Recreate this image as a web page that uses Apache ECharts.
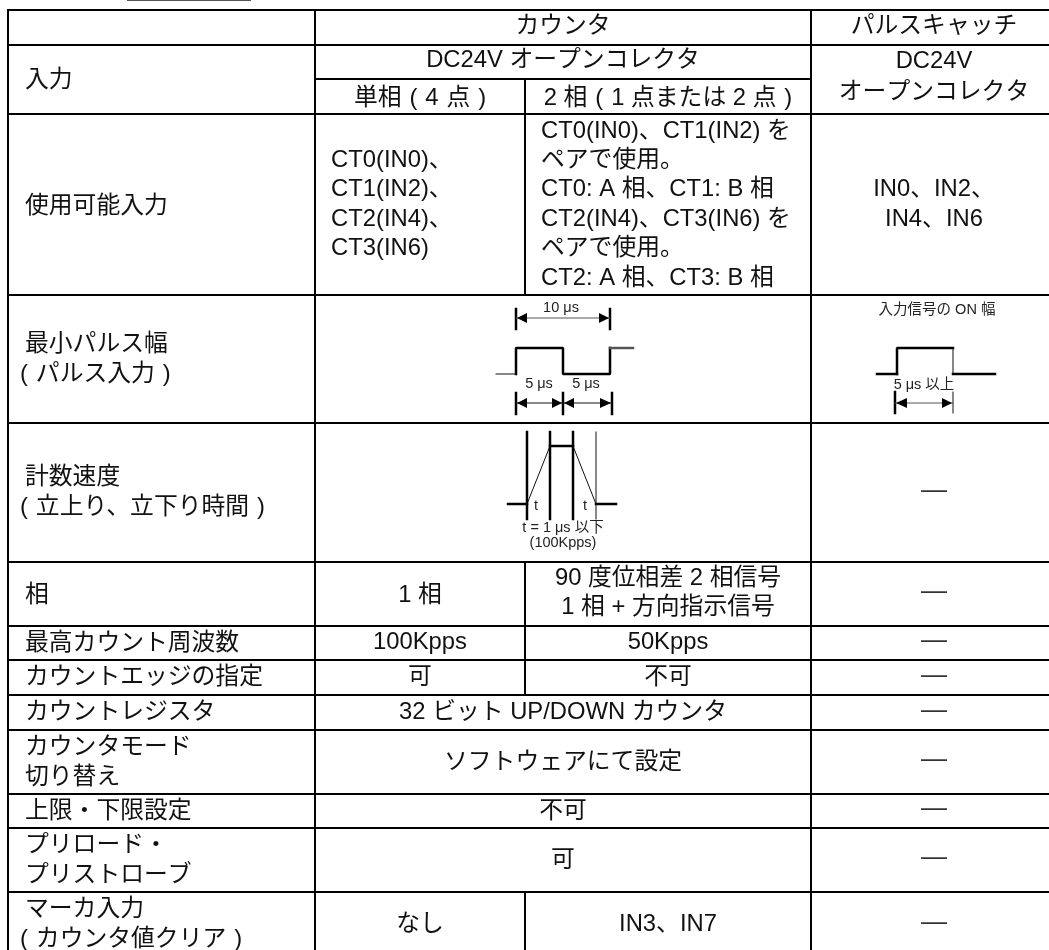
<!DOCTYPE html>
<html><head><meta charset="utf-8">
<style>html,body{margin:0;padding:0;background:#fff}#c{width:1049px;height:950px}</style>
<script src="https://cdn.jsdelivr.net/npm/echarts@6/dist/echarts.min.js"></script>
</head><body><div id="c"></div>
<script>
const columnEdges=[8,315,525,811,1057];
const rowEdges=[10,45,79,114,295,423,562,626,660,695,730,794,828,892,957];
const rowLabels=['入力','使用可能入力','最小パルス幅\n(\u2004パルス入力\u2004)','計数速度\n(\u2004立上り、立下り時間\u2004)','相','最高カウント周波数','カウントエッジの指定','カウントレジスタ','カウンタモード\n切り替え','上限・下限設定','プリロード・\nプリストローブ','マーカ入力\n(\u2004カウンタ値クリア\u2004)'];
const headerTexts=['カウンタ','パルスキャッチ','DC24V オープンコレクタ','単相\u2004(\u20044\u2004点\u2004)','2 相\u2004(\u20041 点または 2 点\u2004)','DC24V\nオープンコレクタ'];
const singlePhaseTexts=['CT0(IN0)、\nCT1(IN2)、\nCT2(IN4)、\nCT3(IN6)','1 相','100Kpps','可','なし'];
const twoPhaseTexts=['CT0(IN0)、CT1(IN2) を\nペアで使用。\nCT0: A 相、CT1: B 相\nCT2(IN4)、CT3(IN6) を\nペアで使用。\nCT2: A 相、CT3: B 相','90 度位相差 2 相信号\n1 相 + 方向指示信号','50Kpps','不可','IN3、IN7'];
const mergedTexts=['32 ビット UP/DOWN カウンタ','ソフトウェアにて設定','不可','可'];
const pulseCatchInput='IN0、IN2、\nIN4、IN6';
const dash='—';

// [col start, row start, col end, row end, text, align, vertical nudge]
const cells=[
 [0,0,1,1,'','c'],[0,1,1,3,rowLabels[0],'l',1],
 [1,0,3,1,headerTexts[0],'c',-1],[3,0,4,1,headerTexts[1],'c',-1],
 [1,1,3,2,headerTexts[2],'c',-1.5],[1,2,2,3,headerTexts[3],'c',2],[2,2,3,3,headerTexts[4],'c',2],[3,1,4,3,headerTexts[5],'c',-3],
 [0,3,1,4,rowLabels[1],'l',2],[1,3,2,4,singlePhaseTexts[0],'i'],[2,3,3,4,twoPhaseTexts[0],'i'],[3,3,4,4,pulseCatchInput,'c'],
 [0,4,1,5,rowLabels[2],'p'],[1,4,3,5,'','c'],[3,4,4,5,'','c'],
 [0,5,1,6,rowLabels[3],'p'],[1,5,3,6,'','c'],[3,5,4,6,dash,'c',-2],
 [0,6,1,7,rowLabels[4],'l',1],[1,6,2,7,singlePhaseTexts[1],'c',1],[2,6,3,7,twoPhaseTexts[1],'c',-1],[3,6,4,7,dash,'c',-2],
 [0,7,1,8,rowLabels[5],'l'],[1,7,2,8,singlePhaseTexts[2],'c',-1],[2,7,3,8,twoPhaseTexts[2],'c',-1],[3,7,4,8,dash,'c',-2],
 [0,8,1,9,rowLabels[6],'l'],[1,8,2,9,singlePhaseTexts[3],'c'],[2,8,3,9,twoPhaseTexts[3],'c'],[3,8,4,9,dash,'c',-2],
 [0,9,1,10,rowLabels[7],'l'],[1,9,3,10,mergedTexts[0],'c'],[3,9,4,10,dash,'c',-2],
 [0,10,1,11,rowLabels[8],'l'],[1,10,3,11,mergedTexts[1],'c'],[3,10,4,11,dash,'c',-2],
 [0,11,1,12,rowLabels[9],'l'],[1,11,3,12,mergedTexts[2],'c'],[3,11,4,12,dash,'c',-2],
 [0,12,1,13,rowLabels[10],'l'],[1,12,3,13,mergedTexts[3],'c'],[3,12,4,13,dash,'c',-2],
 [0,13,1,14,rowLabels[11],'p'],[1,13,2,14,singlePhaseTexts[4],'c'],[2,13,3,14,twoPhaseTexts[4],'c'],[3,13,4,14,dash,'c',-2]
];

// Diagram traces
const thickTraces=[
 [[516,374],[516,348],[563,348],[563,374],[610,374],[610,348]],
 [[516,309],[516,329]],[[610,309],[610,329]],
 [[516,393],[516,414]],[[563,393],[563,414]],[[612,393],[612,414]],
 [[897,374],[897,348],[953,348]],
 [[877,374],[897,374]],[[953,374],[995,374]],
 [[895,392],[895,413]],
 [[527,432],[527,519]],[[550,432],[550,519]],[[573,432],[573,519]],
 [[550,446],[573,446]],[[508,504],[527,504]],[[596,504],[616,504]]
];
const thinTraces=[
 [[496,374],[516,374]],[[527,504],[550,446]],[[573,446],[596,504]],
 [[596,432],[596,519]],[[953,374],[953,348]],[[953,392],[953,413]],
 [[516,403],[612,403]]
];
const greyTraces=[
 [[516,318],[610,318]],[[610,348],[633,348]],[[895,403],[953,403]]
];
// [tip x, tip y, base x]
const arrowHeads=[[517,318,527],[609,318,599],[517,403,527],[562,403,552],[564,403,574],[611,403,600],[896,403,907],[952,403,942]];
// [x, y, text, size]
const diagramTexts=[
 [561,308,'10 μs',14.5],[539,384,'5 μs',14.5],[586,384,'5 μs',14.5],
 [937,310,'入力信号の ON 幅',14.5],[924,385,'5 μs 以上',14.5],
 [536,506,'t',14.5],[585,506,'t',14.5],[563,528,'t = 1 μs 以下',14.5],[563,543,'(100Kpps)',14.5]
];
const topMarkX=[128,250], topMarkY=0;

const FONT='"Liberation Sans","Noto Sans CJK JP",sans-serif';
const chart=echarts.init(document.getElementById('c'),null,{renderer:'canvas'});
const lineSeries=(t,width,color)=>({type:'line',data:t,symbol:'none',silent:true,clip:false,z:4,lineStyle:{width,color,cap:'square'}});
chart.setOption({
 animation:false,backgroundColor:'#fff',
 grid:{left:0,right:0,top:0,bottom:0},
 xAxis:{type:'value',min:0,max:1049,show:false},
 yAxis:{type:'value',min:0,max:950,inverse:true,show:false},
 tooltip:{show:false},
 series:[
  {type:'custom',silent:true,z:2,clip:false,data:cells.map((_,i)=>[i]),
   renderItem(p,api){
    const [c0,r0,c1,r1,text,al,dy]=cells[api.value(0)];
    const a=api.coord([columnEdges[c0],rowEdges[r0]]),b=api.coord([columnEdges[c1],rowEdges[r1]]);
    const cy=(a[1]+b[1])/2+(dy||0);
    let x=(a[0]+b[0])/2,align='center';
    if(al==='l'||al==='p'){x=a[0]+17;align='left';}
    if(al==='i'){x=a[0]+16;align='left';}
    const isDash=text===dash;
    const twoLine=text.split('\n').length===2&&al!=='c';
    const lh=text===headerTexts[5]?31:twoLine?30:29.4;
    const font=(isDash?'26px ':'23.8px ')+FONT, fill=isDash?'#333':'#111';
    const children=[{type:'rect',shape:{x:a[0],y:a[1],width:b[0]-a[0],height:b[1]-a[1]},style:{fill:'none',stroke:'#000',lineWidth:2}}];
    if(al==='p'){
     const [l1,l2]=text.split('\n');
     children.push({type:'text',style:{text:l1,x,y:cy-lh/2,align,verticalAlign:'middle',font,fill}});
     children.push({type:'text',style:{text:l2,x:x-5,y:cy+lh/2,align,verticalAlign:'middle',font,fill}});
    } else {
     children.push({type:'text',style:{text,x,y:cy,align,verticalAlign:'middle',font,lineHeight:lh,fill}});
    }
    return {type:'group',children};
   }},
  ...thickTraces.map(t=>lineSeries(t,2.5,'#000')),
  ...thinTraces.map(t=>lineSeries(t,1,'#111')),
  ...greyTraces.map((t,i)=>lineSeries(t,i===1?2.5:1,'#555')),
  {type:'custom',silent:true,z:5,clip:false,data:arrowHeads,
   renderItem(p,api){
    const t=api.coord([api.value(0),api.value(1)]),b=api.coord([api.value(2),api.value(1)]);
    return {type:'polygon',shape:{points:[t,[b[0],b[1]-5],[b[0],b[1]+5]]},style:{fill:'#000'}};
   }},
  {type:'custom',silent:true,z:6,clip:false,data:diagramTexts.map((_,i)=>[i]),
   renderItem(p,api){
    const [x,y,text,size]=diagramTexts[api.value(0)];
    const q=api.coord([x,y]);
    return {type:'text',style:{text,x:q[0],y:q[1],align:'center',verticalAlign:'middle',font:size+'px '+FONT,fill:'#222'}};
   }},
  lineSeries(topMarkX.map(x=>[x,topMarkY]),2,'#555')
 ]
});
</script></body></html>
